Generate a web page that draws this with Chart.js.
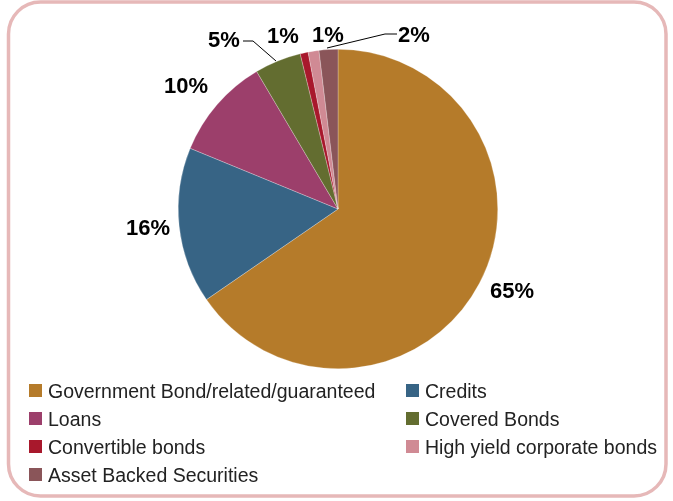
<!DOCTYPE html>
<html><head><meta charset="utf-8">
<script src="https://cdn.jsdelivr.net/npm/chart.js@4"></script>
<style>html,body{margin:0;padding:0;background:#fff;}#wrap{width:673px;height:501px;}</style>
</head><body><div id="wrap"><canvas id="c" width="673" height="501"></canvas></div>
<script>
const categories = ["Government Bond/related/guaranteed","Credits","Loans","Covered Bonds","Convertible bonds","High yield corporate bonds","Asset Backed Securities"];
const values = [65.4, 15.8, 10.3, 4.7, 0.8, 1.1, 1.9];
const percentLabels = ["65%","16%","10%","5%","1%","1%","2%"];
const colors = ["#b57b2a","#376485","#9c3f6b","#636d30","#a8182c","#d08a94","#8a5559"];

const labelPos = [
  {x:512,y:292},{x:148,y:229},{x:186,y:87},{x:224,y:41,line:[[243,41],[253,41],[276,61]]},
  {x:283,y:37},{x:328,y:36},{x:414,y:36,line:[[397,34],[385,34],[327,48]]}
];

const deco = {
  id:'deco',
  beforeDraw(chart){
    const ctx = chart.ctx;
    ctx.save();
    ctx.fillStyle='#fff';ctx.fillRect(0,0,chart.width,chart.height);
    ctx.strokeStyle='#e6b8b8';ctx.lineWidth=3.5;
    ctx.beginPath();
    ctx.roundRect(8.5,2,657.5,494,32);
    ctx.stroke();
    ctx.restore();
  },
  afterDraw(chart){
    const ctx = chart.ctx;
    ctx.save();
    ctx.font='bold 22px "Liberation Sans", Arial, sans-serif';
    ctx.fillStyle='#000';ctx.textAlign='center';ctx.textBaseline='middle';
    percentLabels.forEach((t,i)=>{
      const p=labelPos[i];
      ctx.fillText(t,p.x,p.y);
      if(p.line){
        ctx.strokeStyle='#000';ctx.lineWidth=1;ctx.beginPath();
        p.line.forEach((q,j)=>j?ctx.lineTo(q[0],q[1]):ctx.moveTo(q[0],q[1]));
        ctx.stroke();
      }
    });
    ctx.font='19.5px "Liberation Sans", Arial, sans-serif';
    ctx.textAlign='left';ctx.textBaseline='alphabetic';
    const boxX=[29,406], textX=[48,425], y0=391, dy=28;
    categories.forEach((c,i)=>{
      const col=i%2,row=Math.floor(i/2);
      const y=y0+row*dy;
      ctx.fillStyle=colors[i];
      ctx.fillRect(boxX[col],y-7,13,13);
      ctx.fillStyle='#222';
      ctx.fillText(c,textX[col],y+6.5);
    });
    ctx.restore();
  }
};

new Chart(document.getElementById('c'),{
  type:'pie',
  data:{labels:categories,datasets:[{data:values,backgroundColor:colors,borderColor:'rgba(255,255,255,0.5)',borderWidth:0.5}]},
  options:{
    responsive:false,animation:false,
    layout:{padding:{left:178,right:175,top:49,bottom:132}},
    plugins:{legend:{display:false},tooltip:{enabled:false}}
  },
  plugins:[deco]
});
</script></body></html>
